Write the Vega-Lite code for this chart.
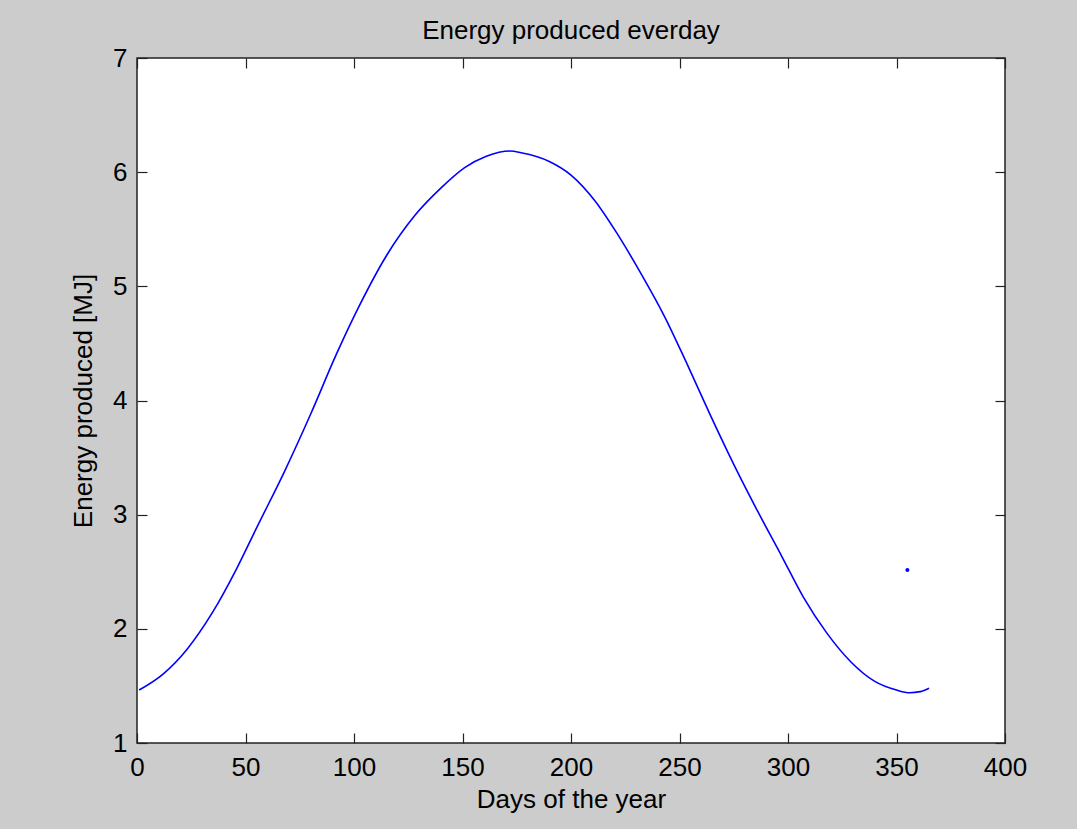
{
  "$schema": "https://vega.github.io/schema/vega-lite/v6.json",
  "width": 868,
  "height": 685,
  "autosize": {"type": "none"},
  "padding": {"left": 137, "top": 58, "right": 72, "bottom": 86},
  "background": "#cccccc",
  "title": {
    "text": "Energy produced everday",
    "font": "Liberation Sans",
    "fontSize": 26,
    "fontWeight": "normal",
    "color": "#000000",
    "anchor": "middle",
    "frame": "group",
    "baseline": "alphabetic",
    "offset": -20
  },
  "config": {
    "view": {"fill": "#ffffff", "stroke": "#222222", "strokeWidth": 1.5},
    "axis": {
      "labelFont": "Liberation Sans",
      "labelFontSize": 26,
      "labelColor": "#000000",
      "titleFont": "Liberation Sans",
      "titleFontSize": 26,
      "titleFontWeight": "normal",
      "titleColor": "#000000",
      "grid": false,
      "domain": false,
      "tickColor": "#222222",
      "tickWidth": 1.2,
      "tickSize": -10,
      "labelFlush": false,
      "labelOverlap": false,
      "labelBound": false
    }
  },
  "datasets": {
    "curve": [
      {"day": 1, "energy": 1.464},
      {"day": 12, "energy": 1.604},
      {"day": 23, "energy": 1.82},
      {"day": 35, "energy": 2.15},
      {"day": 46, "energy": 2.53},
      {"day": 55, "energy": 2.88},
      {"day": 68, "energy": 3.38},
      {"day": 80, "energy": 3.88},
      {"day": 92, "energy": 4.41},
      {"day": 103, "energy": 4.85},
      {"day": 115, "energy": 5.27},
      {"day": 128, "energy": 5.62},
      {"day": 140, "energy": 5.86},
      {"day": 151, "energy": 6.04},
      {"day": 161, "energy": 6.14},
      {"day": 172, "energy": 6.185},
      {"day": 177, "energy": 6.17},
      {"day": 190, "energy": 6.094},
      {"day": 200, "energy": 5.975},
      {"day": 211, "energy": 5.75},
      {"day": 221, "energy": 5.47},
      {"day": 232, "energy": 5.12},
      {"day": 243, "energy": 4.74},
      {"day": 253, "energy": 4.34},
      {"day": 264, "energy": 3.88},
      {"day": 275, "energy": 3.44},
      {"day": 286, "energy": 3.03},
      {"day": 297, "energy": 2.64},
      {"day": 307, "energy": 2.28},
      {"day": 318, "energy": 1.96},
      {"day": 329, "energy": 1.71},
      {"day": 340, "energy": 1.54},
      {"day": 350, "energy": 1.464},
      {"day": 356, "energy": 1.44},
      {"day": 361, "energy": 1.45},
      {"day": 365, "energy": 1.48}
    ],
    "outlier": [
      {"day": 355, "energy": 2.515}
    ]
  },
  "layer": [
    {
      "data": {"name": "curve"},
      "mark": {"type": "line", "color": "#0000ff", "strokeWidth": 1.6, "interpolate": "monotone"},
      "encoding": {
        "x": {
          "field": "day", "type": "quantitative",
          "scale": {"domain": [0, 400], "nice": false, "zero": false},
          "axis": {"orient": "bottom", "values": [0, 50, 100, 150, 200, 250, 300, 350, 400], "title": "Days of the year", "labelPadding": 21, "titlePadding": 6}
        },
        "y": {
          "field": "energy", "type": "quantitative",
          "scale": {"domain": [1, 7], "nice": false, "zero": false},
          "axis": {"orient": "left", "values": [1, 2, 3, 4, 5, 6, 7], "title": "Energy produced [MJ]", "labelPadding": 20, "titlePadding": 16}
        }
      }
    },
    {
      "data": {"name": "outlier"},
      "mark": {"type": "point", "filled": true, "color": "#0000ff", "size": 16, "opacity": 1},
      "encoding": {
        "x": {
          "field": "day", "type": "quantitative",
          "axis": {"orient": "top", "values": [0, 50, 100, 150, 200, 250, 300, 350, 400], "labels": false, "title": null}
        },
        "y": {
          "field": "energy", "type": "quantitative",
          "axis": {"orient": "right", "values": [1, 2, 3, 4, 5, 6, 7], "labels": false, "title": null}
        }
      }
    }
  ],
  "resolve": {"axis": {"x": "independent", "y": "independent"}}
}
